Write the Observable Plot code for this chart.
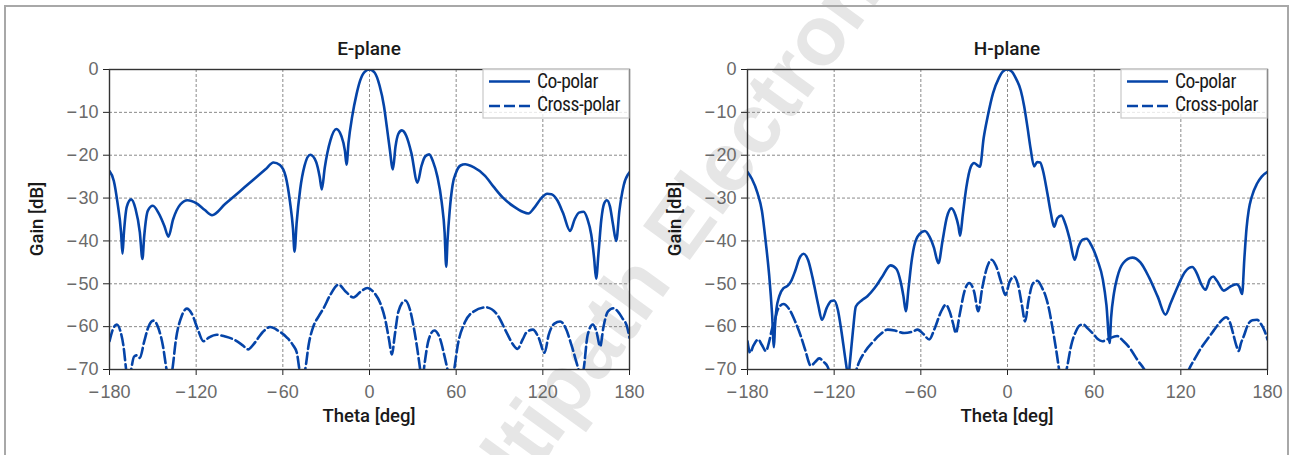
<!DOCTYPE html>
<html>
<head>
<meta charset="utf-8">
<script src="https://cdn.jsdelivr.net/npm/d3@7"></script>
<script src="https://cdn.jsdelivr.net/npm/@observablehq/plot@0.6"></script>
<style>
  html, body { margin: 0; padding: 0; background: #fff; }
  #root { position: relative; width: 1291px; height: 455px; overflow: hidden; background: #fff; }
  #border { position: absolute; left: 4px; top: 5px; width: 1285px; height: 470px; box-sizing: border-box; border: 2px solid #a8a8a8; }
  #wm { position: absolute; left: 680px; top: 225px; transform: translate(-50%, -50%) rotate(-54deg); white-space: nowrap;
        font-family: "Liberation Sans", Arial, sans-serif; font-weight: bold; font-size: 84px; color: #e6e6e6; }
  .panel { position: absolute; top: 0; }
  .panel svg { overflow: visible; }
</style>
</head>
<body>
<div id="root">
  <div id="wm">Multipath Electronics</div>
  <div id="border"></div>
  <div id="p1" class="panel" style="left:0px"></div>
  <div id="p2" class="panel" style="left:638px"></div>
</div>
<script>
// ---------- data ----------
const xTicks = [-180, -120, -60, 0, 60, 120, 180];
const yTicks = [0, -10, -20, -30, -40, -50, -60, -70];
const titles = ["E-plane", "H-plane"];
const seriesNames = ["Co-polar", "Cross-polar"];
const xLabel = "Theta [deg]";
const yLabel = "Gain [dB]";

// E-plane co-polar
const eCoTheta = [-180,-177,-174.5,-172,-171,-170,-168,-165,-162,-159,-157.2,-156,-153.5,-150,-146,-142,-139.2,-136,-131,-126,-120,-114,-109,-100,-90,-80,-72,-66.5,-62,-58,-55,-53,-51.9,-50.5,-48,-45,-41,-37,-34.5,-33,-31,-27,-23,-19.5,-17,-15.9,-14.5,-12,-9,-6.5,-3.5,0,3.5,7,10,12,14,16.2,18,20,22.4,25.5,29,33.2,36,38.5,41.3,44,47,50,52,53.1,54,55.5,57.5,60,63,66.2,72,80,86,92,100,106,110,114,119,123,126,130,134,138.9,142,145,148.2,151,153.5,155.5,156.9,158.5,160.5,162.5,164.3,166.5,168.5,170.8,173,176,180];
const eCoGain = [-23.7,-26,-31,-38,-43,-38,-32,-30.3,-32.5,-38,-44.2,-39,-33,-31.8,-33.5,-36.5,-39,-35,-31.5,-30.5,-31.2,-32.8,-34,-31.4,-28.5,-25.6,-23.3,-21.7,-22.3,-25,-31,-37,-42.5,-36,-28,-22.5,-19.9,-21.5,-25,-28,-23,-16.5,-13.9,-15.5,-19,-22.2,-17,-11,-5.8,-2.6,-0.6,0,-0.7,-3.8,-8.5,-13.4,-18.5,-23.3,-18,-15,-14.2,-15.5,-19.5,-26.4,-22.5,-20.3,-19.8,-21.5,-25,-31,-38,-46,-40,-33,-27,-24,-22.4,-22.1,-22.8,-24.8,-27.4,-29.8,-32,-33.2,-33.6,-32.3,-30,-29,-29.1,-30.5,-33.5,-37.7,-35,-33.4,-33.2,-35,-38.5,-44,-48.8,-43,-35,-31.2,-30.5,-32,-36,-40,-33,-27,-24];

// E-plane cross-polar
const eXTheta = [-180,-177.5,-175,-172.5,-170.3,-168.5,-167,-165,-163,-161,-159,-156,-153,-149.5,-146,-143,-140.5,-138.5,-136.5,-134,-130,-126.5,-123,-119,-115,-111,-105.7,-100,-94,-88,-84,-80,-74,-68.8,-63,-57,-53,-50.3,-48.5,-46.5,-44.5,-42,-38.8,-35,-31.8,-27,-21.5,-16,-11.1,-6,-1.5,3,7.4,11,13.5,15.5,17.5,20,24.7,28,30.5,33,35.1,36.5,38,41,44.8,48.5,52,54,56,58.6,61,66,72,80.8,88,95.1,99,102.5,106,109,113.1,117,121.2,124,128,132,136,140,144.7,146.5,148.2,151,154.6,157,159.7,162,165,168.9,172,175,178.2,180];
const eXGain = [-63.4,-60.5,-59.5,-61,-64.6,-70,-74,-70,-67,-66.7,-67.3,-63.5,-60,-58.6,-60.5,-64.5,-70,-73,-70,-63,-57.5,-55.8,-57,-60.5,-63.4,-62.5,-61.9,-62.3,-63,-64.3,-65.3,-64,-61.3,-60.1,-61,-62.6,-64.3,-66.1,-70,-73,-70,-64,-59.9,-57.5,-55.7,-52.5,-50.2,-52,-53.2,-51.8,-51,-52,-54.5,-58.5,-63,-66.5,-62,-56.5,-53.9,-56,-59.9,-65,-70,-73,-69,-63,-60.9,-62.5,-67,-70,-73,-70,-64.5,-59,-56.5,-55.5,-57,-61.5,-64,-65.2,-63,-61.2,-60.7,-62.5,-66.1,-62,-59.3,-58.8,-60.5,-64.5,-70,-72,-70,-62,-59.5,-61,-64.6,-60,-56.5,-55.7,-56.5,-58,-59.9,-62.6];

// H-plane co-polar
const hCoTheta = [-180,-177,-173,-170,-167.3,-165,-163,-161.7,-161,-160,-158,-155,-152.3,-150,-147,-144,-141.2,-138,-135,-131,-128.5,-125,-122,-120,-117.5,-115,-112.5,-111,-110.3,-109,-107,-105,-101,-97,-92,-87,-81,-77,-74,-72,-70.4,-68.5,-66.5,-64.6,-61,-57.2,-54,-51,-47.8,-45,-42,-38.8,-36,-34,-32.8,-31,-28.5,-25.4,-23.1,-21,-19.1,-16.5,-13.8,-10,-6,-3,0,3,6,9.2,11.5,13.8,16,18.4,20.5,22.6,24.5,27.6,30,32.3,34.5,37.3,40,43,46.5,49,52,54.8,58,62.2,66,68.5,70.7,71.7,73.7,76,80,86.4,92,98,104,109.4,113,118,123,127.9,131,134,137.1,140,142.4,145,149.8,154,158.5,160.5,162.4,164,165.5,167,169,172.8,176,180];
const hCoGain = [-23.9,-25.5,-28.9,-33,-40.5,-48,-57,-64.8,-60,-56,-52.9,-51,-50.5,-49.5,-47,-44,-43,-44.5,-48.5,-55,-58.4,-55.5,-54,-53.9,-56,-61,-67,-70.5,-72,-68,-61,-55.3,-53.9,-52.9,-51,-48.5,-45.7,-46.5,-49.5,-53,-56.4,-51,-45,-41.2,-38.4,-37.7,-39,-41.5,-45.2,-40,-34.5,-32.4,-34,-36.5,-38.8,-34,-27.5,-22.7,-21.8,-22.3,-22.7,-16,-11.1,-5.5,-2,-0.4,0,-0.5,-2.2,-4.9,-8.5,-13.4,-18.5,-22.6,-21.6,-21.7,-23.5,-28.9,-33.5,-36.7,-34.7,-34.1,-36,-39.5,-44.4,-41.5,-39.7,-39.5,-41,-44.4,-49,-55,-63.8,-58,-52.2,-48.5,-45.2,-43.9,-45,-48.5,-53,-57.2,-54.5,-50.5,-47.2,-46.1,-47.5,-50,-51.4,-49,-48.3,-49.3,-51.6,-50.7,-50.1,-50.7,-52.4,-44,-37,-32.8,-29.8,-26.6,-25,-23.9];

// H-plane cross-polar
const hXTheta = [-180,-178.2,-176,-172.6,-170,-167.3,-165,-163,-161.5,-159,-155.1,-151,-147,-143.1,-140,-136.2,-133,-130.4,-127,-124.6,-122,-118,-113,-108,-105,-103,-99,-93,-88,-83,-78,-71.5,-66,-62.3,-58,-54.2,-50.5,-46,-42.7,-40,-37.5,-35.8,-33,-30,-26.5,-23,-20.3,-17.5,-14,-11.1,-8,-4.5,-1.5,1.5,4.6,7.5,10,12.2,14.5,17.5,20.7,24,26.5,28.8,31,33.5,35.7,37.5,39.5,41.5,44,47.5,50,52.5,55.5,59.9,62.5,65.7,70,76,80,85.3,90,95.6,100,110,120,125.6,130,134,138.2,143,147,151.4,154,156.5,158.5,160.1,161.5,163.6,166.5,169.5,172.8,175.5,178,180];
const hXGain = [-63.4,-66.1,-64.5,-63,-64.3,-65.7,-63.5,-60.5,-59,-56,-54.7,-56,-58.8,-62.2,-65.5,-69.1,-68.2,-67.4,-68.3,-69.3,-72,-76,-78,-76,-70.5,-68.5,-66,-63.5,-61.8,-60.7,-60.9,-61.5,-61.2,-60.7,-61.8,-63,-60.5,-56.5,-54.9,-56.5,-59.5,-61.5,-57,-52,-49.8,-52,-56.4,-51,-46,-44.4,-45.8,-49.5,-52.6,-49.5,-48.3,-50.5,-55,-58.8,-54,-50,-49.3,-51,-53,-56,-60,-65,-70,-74,-72,-69,-64.5,-61,-59.7,-59.5,-60.4,-61.9,-62.9,-63.4,-62.8,-62.2,-63.3,-65.3,-67.8,-70.5,-74,-78,-75,-70,-67.3,-65,-63,-60.8,-59,-57.8,-59,-62,-64.5,-65.7,-64,-62.2,-59.5,-58.5,-58.4,-59.4,-61,-63];

// ---------- drawing ----------
const blue = "#0544a8";
const dash = "11,4";
const zip = (t, g) => t.map((v, i) => ({theta: v, gain: g[i]}));
const fmt = d => d < 0 ? "\u2212\u200A" + Math.abs(d) : String(d);
const tickFont = "'Liberation Sans', Arial, sans-serif";
const labelFont = "Roboto, 'Liberation Sans', Arial, sans-serif";

function panel(el, title, co, cx) {
  const ML = 109, MR = 11, MT = 69, MB = 71, W = 640, H = 440;
  const svg = Plot.plot({
    width: W, height: H,
    marginLeft: ML, marginRight: MR, marginTop: MT, marginBottom: MB,
    style: {background: "transparent", fontFamily: tickFont, fontSize: "18px", color: "#222", overflow: "visible"},
    x: {domain: [-180, 180], ticks: xTicks, tickFormat: fmt, tickSize: 6, tickPadding: 10, label: null},
    y: {domain: [-70, 0], ticks: yTicks, tickFormat: fmt, tickSize: 6, tickPadding: 5, label: null},
    marks: [
      Plot.ruleX(xTicks, {stroke: "#8a8a8a", strokeWidth: 1, strokeDasharray: "3,2"}),
      Plot.ruleY(yTicks, {stroke: "#8a8a8a", strokeWidth: 1, strokeDasharray: "3,2"}),
      Plot.line(cx, {x: "theta", y: "gain", stroke: blue, strokeWidth: 2.6, strokeDasharray: dash, curve: "monotone-x", clip: true}),
      Plot.line(co, {x: "theta", y: "gain", stroke: blue, strokeWidth: 2.6, curve: "monotone-x", clip: true}),
      Plot.frame({stroke: "#333", strokeWidth: 1.4})
    ]
  });
  const s = d3.select(svg);
  s.selectAll("text").attr("fill", "#6a6a6a").attr("font-size", 18).attr("font-family", tickFont)
    .style("font-size", "18px");
  const cxp = ML + (W - ML - MR) / 2;
  const addText = (x, y, txt, opts) => {
    const t = s.append("text").attr("x", x).attr("y", y).attr("text-anchor", opts.anchor || "middle")
      .attr("font-family", opts.family || labelFont).attr("font-weight", opts.weight || 500)
      .attr("font-size", opts.size).style("font-size", opts.size + "px").attr("fill", "#1a1a1a").text(txt);
    if (opts.transform) t.attr("transform", opts.transform);
    if (opts.dy) t.attr("dy", opts.dy);
    return t;
  };
  addText(cxp, 55, title, {size: 19});
  addText(cxp, 422, xLabel, {size: 18.5});
  addText(0, 0, yLabel, {size: 18.5, transform: "translate(43,219) rotate(-90)"});
  // legend
  const lx = 483, ly = 69, lw = W - MR - 483, lh = 49;
  const g = s.append("g");
  g.append("rect").attr("x", lx).attr("y", ly).attr("width", lw).attr("height", lh)
    .attr("fill", "#fff").attr("fill-opacity", 0.8).attr("stroke", "#c8c8c8").attr("stroke-width", 1.2);
  [[81.5, null, 81], [106, dash, 104]].forEach(([yy, da, ty], i) => {
    const ln = g.append("line").attr("x1", lx + 6).attr("x2", lx + 47).attr("y1", yy).attr("y2", yy)
      .attr("stroke", blue).attr("stroke-width", 2.6);
    if (da) ln.attr("stroke-dasharray", da);
    addText(lx + 54, ty, seriesNames[i], {size: 19.5, weight: 400, anchor: "start", dy: "0.36em",
      family: "'Roboto Condensed', 'Liberation Sans Narrow', Roboto, sans-serif"})
      .attr("letter-spacing", "-0.5px");
  });
  document.getElementById(el).appendChild(svg);
}

panel("p1", titles[0], zip(eCoTheta, eCoGain), zip(eXTheta, eXGain));
panel("p2", titles[1], zip(hCoTheta, hCoGain), zip(hXTheta, hXGain));
</script>
</body>
</html>
